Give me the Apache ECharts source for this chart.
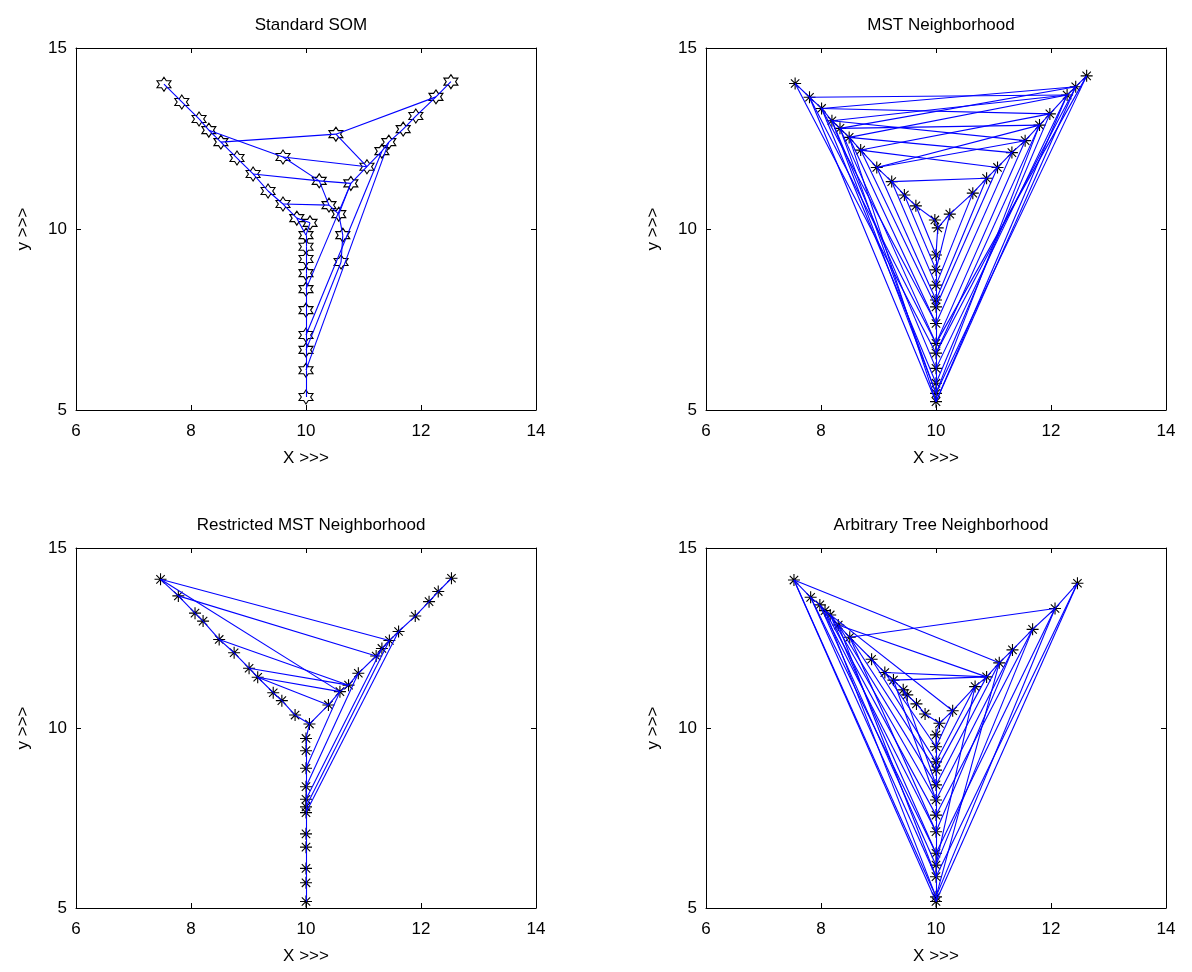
<!DOCTYPE html>
<html><head><meta charset="utf-8">
<script src="https://cdn.jsdelivr.net/npm/echarts@6/dist/echarts.min.js"></script>
<style>html,body{margin:0;padding:0;background:#fff}#c{width:1192px;height:972px}</style>
</head><body><div id="c"></div>
<script>
const panelTitles = ['Standard SOM', 'MST Neighborhood', 'Restricted MST Neighborhood', 'Arbitrary Tree Neighborhood'];
const xTicks = [6, 8, 10, 12, 14];
const yTicks = [5, 10, 15];

const somNodes = [[7.53,14.00],[7.84,13.51],[8.14,13.04],[8.31,12.73],[8.52,12.40],[8.80,11.96],[9.08,11.52],[9.34,11.05],[9.60,10.69],[9.84,10.30],[10.07,10.17],
  [9.60,11.99],[10.23,11.33],[10.52,12.62],[10.40,10.66],[10.57,10.41],[10.64,9.83],[10.61,9.09],
  [12.52,14.07],[12.26,13.65],[11.91,13.12],[11.69,12.76],[11.44,12.40],[11.32,12.15],[11.06,11.72],[10.78,11.26],
  [10,9.83],[10,9.51],[10,9.17],[10,8.78],[10,8.34],[10,7.76],[10,7.07],[10,6.66],[10,6.10],[10,5.36]];
const somEdges = [[0,1],[1,2],[2,3],[3,4],[4,5],[5,6],[6,7],[7,8],[8,9],[9,10],[10,26],[9,26],
  [3,11],[4,13],[13,19],[13,24],[11,24],[11,12],[6,12],[12,25],[8,14],[12,14],[14,15],[15,16],[16,17],[25,15],
  [18,19],[19,20],[20,21],[21,22],[22,23],[23,24],[24,25],
  [25,30],[23,32],[22,34],[17,33],
  [26,27],[27,28],[28,29],[29,30],[30,31],[31,32],[32,33],[33,34],[34,35]];

const mstNodes = [[7.55,14.02],[7.80,13.64],[8.01,13.33],[8.19,12.99],[8.33,12.78],[8.49,12.53],[8.69,12.18],[8.97,11.70],[9.23,11.31],[9.45,10.94],[9.65,10.64],[9.98,10.25],
  [10.03,10.03],
  [10.24,10.41],[10.64,10.99],[10.88,11.40],[11.07,11.70],[11.32,12.11],[11.55,12.44],[11.80,12.87],[11.98,13.18],[12.28,13.70],[12.43,13.93],[12.62,14.23],
  [10,9.28],[10,8.87],[10,8.45],[10,8.04],[10,7.85],[10,7.39],[10,6.84],[10,6.57],[10,6.15],[10,5.74],[10,5.46],[10,5.23]];
const mstEdges = [[0,1],[1,2],[2,3],[3,4],[4,5],[5,6],[6,7],[7,8],[8,9],[9,10],[10,11],[11,12],
  [12,13],[13,14],[14,15],[15,16],[16,17],[17,18],[18,19],[19,20],[20,21],[21,22],[22,23],
  [12,24],[24,25],[25,26],[26,27],[27,28],[28,29],[29,30],[30,31],[31,32],[32,33],[33,34],[34,35],
  [2,22],[2,20],[3,21],[3,18],[4,22],[4,19],[5,21],[5,17],[6,20],[6,16],[7,18],[8,15],[1,21],[7,19],
  [0,31],[1,35],[2,33],[3,34],[4,30],[5,29],[6,28],[7,27],[8,26],[9,25],[10,24],[3,32],[2,29],[5,35],[1,30],[4,34],
  [23,34],[22,35],[21,32],[20,33],[19,31],[18,30],[17,29],[16,28],[15,27],[14,26],[13,25],[23,30],[21,35],[19,34],[22,31]];

const rmstNodes = [[7.47,14.13],[7.78,13.67],[8.07,13.19],[8.21,12.97],[8.49,12.46],[8.75,12.09],[9.01,11.66],[9.16,11.41],[9.43,10.98],[9.58,10.76],[9.81,10.36],
  [10.06,10.11],
  [10.39,10.64],[10.59,11.01],[10.74,11.19],[10.91,11.52],[11.22,12.00],[11.32,12.21],[11.45,12.43],[11.61,12.68],[11.90,13.11],[12.14,13.51],[12.30,13.79],[12.53,14.16],
  [10,9.71],[10,9.37],[10,8.88],[10,8.37],[10,8.02],[10,7.81],[10,7.65],[10,7.06],[10,6.69],[10,6.10],[10,5.70],[10,5.18]];
const rmstEdges = [[0,1],[1,2],[2,3],[3,4],[4,5],[5,6],[6,7],[7,8],[8,9],[9,10],[10,11],
  [11,12],[12,13],[13,14],[14,15],[15,16],[16,17],[17,18],[18,19],[19,20],[20,21],[21,22],[22,23],
  [11,24],[24,25],[25,26],[26,27],[27,28],[28,29],[29,30],[30,31],[31,32],[32,33],[33,34],[34,35],
  [0,18],[0,13],[1,16],[4,14],[6,14],[7,13],[7,12],
  [13,26],[15,27],[17,28],[18,29],[19,30]];

const treeNodes = [[7.53,14.11],[7.82,13.63],[7.98,13.42],[8.07,13.26],[8.16,13.14],[8.30,12.86],[8.50,12.52],[8.88,11.91],[9.11,11.54],[9.26,11.33],[9.43,11.06],[9.50,10.92],[9.66,10.67],[9.81,10.39],
  [10.06,10.13],
  [10.29,10.48],[10.68,11.15],[10.88,11.42],[11.10,11.81],[11.33,12.17],[11.68,12.74],[12.07,13.32],[12.46,14.02],
  [10,9.81],[10,9.48],[10,9.06],[10,8.83],[10,8.42],[10,8.00],[10,7.58],[10,7.12],[10,6.52],[10,6.19],[10,5.87],[10,5.31],[10,5.18]];
const treeEdges = [[0,1],[1,2],[2,3],[3,4],[4,5],[5,6],[6,7],[7,8],[8,9],[9,10],[10,11],[11,12],[12,13],[13,14],
  [14,15],[15,16],[16,17],[17,18],[18,19],[19,20],[20,21],[21,22],
  [14,23],[23,24],[24,25],[25,26],[26,27],[27,28],[28,29],[29,30],[30,31],[31,32],[32,33],[33,34],[34,35],
  [0,18],[6,21],[5,17],[8,17],[9,17],[3,15],
  [0,35],[0,34],[1,33],[1,31],[2,32],[2,30],[3,34],[3,29],[4,28],[4,31],[5,27],[5,33],[6,26],[6,30],[7,25],[8,24],[9,28],[10,27],
  [22,35],[22,33],[21,34],[21,31],[20,32],[20,29],[19,30],[19,28],[18,27],[18,34],[17,26],[16,25],[16,32],[15,24]];

const HEX = 'path://M0,-100L29,-50L87,-50L58,0L87,50L29,50L0,100L-29,50L-87,50L-58,0L-87,-50L-29,-50Z';
const AST = 'path://M0,-100L0,100M-100,0L100,0M-70,-70L70,70M-70,70L70,-70';

const panels = [
  {nodes: somNodes, edges: somEdges, symbol: HEX, size: 14, left: 76, top: 48, h: 362},
  {nodes: mstNodes, edges: mstEdges, symbol: AST, size: 12, left: 706, top: 48, h: 362},
  {nodes: rmstNodes, edges: rmstEdges, symbol: AST, size: 12, left: 76, top: 548, h: 360},
  {nodes: treeNodes, edges: treeEdges, symbol: AST, size: 12, left: 706, top: 548, h: 360}
];
const W = 460;
const FONT = 'Liberation Sans';

const option = {backgroundColor: '#fff', animation: false, title: [], grid: [], xAxis: [], yAxis: [], series: []};
panels.forEach((p, i) => {
  option.title.push({text: panelTitles[i], left: p.left + W / 2, top: p.top - 36, textAlign: 'center',
    textStyle: {fontFamily: FONT, fontSize: 17, fontWeight: 'normal', color: '#000'}});
  option.grid.push({left: p.left, top: p.top, width: W, height: p.h, containLabel: false});
  const common = {gridIndex: i, min: xTicks[0], max: xTicks[xTicks.length - 1], interval: 2, splitLine: {show: false},
    axisLine: {lineStyle: {color: '#000', width: 1}}, axisTick: {inside: true, length: 5, lineStyle: {color: '#000'}}};
  option.xAxis.push(Object.assign({}, common, {type: 'value', position: 'bottom', name: 'X >>>', nameLocation: 'middle', nameGap: 40,
    nameTextStyle: {fontFamily: FONT, fontSize: 17, color: '#000'},
    axisLabel: {fontFamily: FONT, fontSize: 17, color: '#000', margin: 13}}));
  option.xAxis.push(Object.assign({}, common, {type: 'value', position: 'top', axisLabel: {show: false}}));
  const ycommon = {gridIndex: i, min: yTicks[0], max: yTicks[yTicks.length - 1], interval: 5, splitLine: {show: false},
    axisLine: {lineStyle: {color: '#000', width: 1}}, axisTick: {inside: true, length: 5, lineStyle: {color: '#000'}}};
  option.yAxis.push(Object.assign({}, ycommon, {type: 'value', position: 'left', name: 'y >>>', nameLocation: 'middle', nameGap: 44,
    nameTextStyle: {fontFamily: FONT, fontSize: 17, color: '#000'},
    axisLabel: {fontFamily: FONT, fontSize: 17, color: '#000', margin: 9}}));
  option.yAxis.push(Object.assign({}, ycommon, {type: 'value', position: 'right', axisLabel: {show: false}}));
  option.series.push({type: 'scatter', xAxisIndex: 2 * i, yAxisIndex: 2 * i, data: p.nodes, symbol: p.symbol, symbolSize: p.size,
    itemStyle: {color: 'rgba(0,0,0,0)', borderColor: '#000', borderWidth: 1.1, opacity: 1}, z: 2, silent: true});
  option.series.push({type: 'lines', coordinateSystem: 'cartesian2d', xAxisIndex: 2 * i, yAxisIndex: 2 * i,
    data: p.edges.map(e => ({coords: [p.nodes[e[0]], p.nodes[e[1]]]})),
    lineStyle: {color: '#0000ff', width: 1.1, opacity: 1}, z: 3, silent: true});
});
const chart = echarts.init(document.getElementById('c'), null, {renderer: 'canvas'});
chart.setOption(option);
</script>
</body></html>
